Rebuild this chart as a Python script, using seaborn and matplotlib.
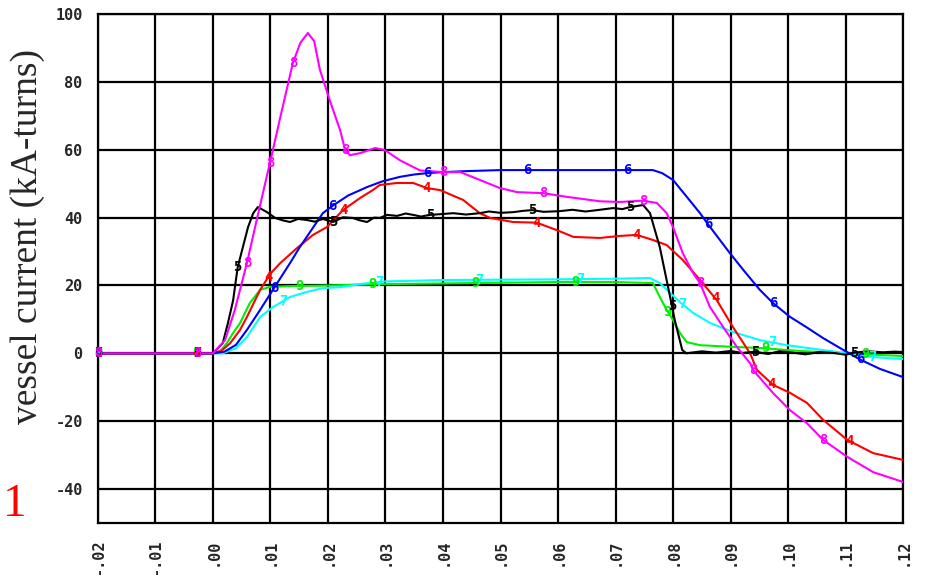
import numpy as np
import pandas as pd
import matplotlib
matplotlib.use("Agg")
import matplotlib.pyplot as plt
import seaborn as sns

# ---- data: time (s) vs vessel current (kA-turns) ----
t4 = [-0.02, 0.0, 0.0015, 0.003, 0.0047, 0.0059, 0.0082, 0.0100, 0.0117, 0.0146, 0.0174,
      0.0198, 0.0226, 0.0256, 0.0278, 0.029, 0.032, 0.0348, 0.0372, 0.0395, 0.0435, 0.0464,
      0.0482, 0.0522, 0.0563, 0.0598, 0.0627, 0.0673, 0.0708, 0.0737, 0.0765, 0.0789, 0.0817,
      0.0847, 0.0876, 0.0904, 0.0934, 0.0946, 0.0974, 0.1003, 0.1033, 0.1061, 0.1103, 0.1148, 0.12]
i4 = [0, 0, 0.8, 3.0, 6.9, 10.7, 18.7, 23.5, 26.6, 31.0, 34.9,
      37.2, 42.2, 45.8, 48.1, 49.6, 50.2, 50.2, 48.7, 48.1, 45.2, 41.3,
      39.9, 38.7, 38.5, 36.3, 34.3, 34.0, 34.6, 34.9, 33.4, 31.9, 27.5,
      21.6, 15.7, 7.8, 0.0, -4.9, -9.3, -11.6, -14.6, -19.6, -25.5, -29.4, -31.4]

t5 = [-0.02, 0.0, 0.0017, 0.0026, 0.0035, 0.0043, 0.0052, 0.0061, 0.0070, 0.0078, 0.0094,
      0.0108, 0.0121, 0.0134, 0.0148, 0.0163, 0.0177, 0.0191, 0.0209, 0.0226, 0.0243, 0.0255,
      0.0268, 0.0280, 0.0290, 0.0303, 0.0320, 0.0335, 0.0348, 0.0362, 0.0377, 0.0395, 0.0418,
      0.0440, 0.0464, 0.0480, 0.0500, 0.0522, 0.0540, 0.0555, 0.0575, 0.0603, 0.0625, 0.0648,
      0.0668, 0.0696, 0.0712, 0.0725, 0.0748, 0.0760, 0.0777, 0.0795, 0.0803, 0.0816, 0.0823,
      0.0850, 0.0875, 0.0900, 0.0920, 0.0943, 0.0965, 0.0985, 0.1005, 0.1030, 0.1055, 0.1080,
      0.1100, 0.1115, 0.1140, 0.1165, 0.1185, 0.12]
i5 = [0, 0, 3.0, 8.9, 15.6, 25.4, 31.3, 37.2, 41.3, 43.1, 41.6,
      39.9, 39.2, 38.7, 39.6, 39.3, 38.8, 39.6, 38.7, 40.1, 39.9, 39.2,
      38.7, 40.0, 39.9, 40.8, 40.5, 41.2, 40.8, 40.3, 40.8, 41.0, 41.3,
      40.9, 41.3, 41.8, 41.4, 41.6, 42.0, 42.2, 41.7, 41.9, 42.3, 41.8,
      42.2, 42.8, 42.5, 43.1, 43.7, 41.3, 31.3, 16.6, 9.8, 1.0, 0.0,
      0.6, 0.2, 0.7, 0.1, 0.5, -0.2, 0.6, 0.3, -0.3, 0.4, 0.1,
      -0.4, 0.2, 0.6, 0.3, 0.5, 0.4]

t6 = [-0.02, 0.0, 0.002, 0.004, 0.0059, 0.0082, 0.0106, 0.0134, 0.0151, 0.0163, 0.0191,
      0.0209, 0.0235, 0.0268, 0.0295, 0.0325, 0.0350, 0.0372, 0.0400, 0.0442, 0.050, 0.060,
      0.070, 0.0765, 0.0781, 0.080, 0.0824, 0.0847, 0.0861, 0.0899, 0.0925, 0.0951, 0.0974,
      0.1003, 0.1033, 0.1060, 0.1090, 0.1125, 0.1160, 0.12]
i6 = [0, 0, 0.5, 2.5, 6.9, 12.8, 19.2, 26.6, 31.3, 34.3, 41.3,
      43.6, 46.5, 49.0, 50.7, 52.0, 52.7, 53.1, 53.4, 53.7, 54.0, 54.0,
      54.0, 54.0, 53.1, 51.1, 46.1, 41.3, 38.0, 29.5, 24.0, 18.7, 14.8,
      10.8, 7.6, 4.6, 1.6, -1.8, -4.6, -7.0]

t7 = [-0.02, 0.0, 0.0017, 0.004, 0.0059, 0.0082, 0.0104, 0.0134, 0.0163, 0.0191, 0.0221,
      0.026, 0.030, 0.040, 0.050, 0.060, 0.070, 0.076, 0.0777, 0.0795, 0.0812, 0.0835,
      0.0865, 0.0904, 0.0951, 0.0998, 0.1033, 0.1090, 0.1148, 0.12]
i7 = [0, 0, 0.0, 1.5, 4.8, 10.7, 13.6, 16.6, 18.1, 19.2, 19.5,
      20.5, 21.2, 21.6, 21.7, 21.8, 22.0, 22.2, 20.7, 17.8, 15.1, 11.9,
      8.9, 6.3, 3.9, 2.4, 1.6, 0.3, -1.1, -1.7]

t8 = [-0.02, 0.0, 0.0021, 0.0038, 0.0059, 0.0079, 0.0099, 0.0119, 0.0139, 0.0152, 0.0165,
      0.0176, 0.0186, 0.0203, 0.0221, 0.0230, 0.0238, 0.0256, 0.0282, 0.0299, 0.0325, 0.036,
      0.0400, 0.043, 0.0464, 0.0499, 0.0529, 0.0574, 0.0616, 0.0673, 0.0708, 0.0748, 0.0772,
      0.0789, 0.0800, 0.0817, 0.0835, 0.0847, 0.0864, 0.0887, 0.0911, 0.0934, 0.0939, 0.0974,
      0.1003, 0.1033, 0.1061, 0.1103, 0.1148, 0.12]
i8 = [0, 0, 3.9, 12.8, 26.6, 41.5, 56.1, 71.0, 85.6, 91.5, 94.4,
      92.0, 83.5, 74.6, 65.8, 59.9, 58.4, 59.0, 60.5, 59.9, 56.9, 53.9,
      53.4, 53.4, 51.1, 48.7, 47.5, 47.2, 46.1, 44.8, 44.6, 45.0, 44.3,
      41.3, 37.2, 29.5, 23.6, 20.7, 13.7, 7.8, 1.9, -2.9, -4.9, -11.7,
      -16.7, -20.6, -25.5, -30.5, -35.0, -37.9]

t9 = [-0.02, 0.0, 0.0012, 0.0024, 0.0035, 0.0047, 0.0064, 0.0082, 0.0099, 0.013, 0.020,
      0.030, 0.040, 0.050, 0.060, 0.070, 0.0765, 0.0777, 0.0789, 0.0800, 0.0812, 0.0824,
      0.0847, 0.0904, 0.0950, 0.1020, 0.1100, 0.12]
i9 = [0, 0, 0.5, 3.0, 6.0, 8.9, 14.8, 18.7, 19.6, 19.8, 20.0,
      20.4, 20.6, 20.8, 21.0, 21.0, 20.7, 16.6, 12.8, 9.8, 6.0, 3.3,
      2.4, 1.9, 1.6, 0.7, 0.0, -0.8]

# numbered tags placed along each trace
tags4 = [-0.02, -0.0028, 0.0096, 0.0226, 0.0372, 0.0563, 0.0737, 0.0873, 0.0972, 0.1106]
tags5 = [-0.02, -0.0028, 0.0043, 0.0209, 0.0377, 0.0555, 0.0725, 0.0798, 0.0943, 0.1115]
tags6 = [-0.02, -0.0028, 0.0106, 0.0207, 0.0372, 0.0546, 0.0720, 0.0861, 0.0974, 0.1125]
tags7 = [-0.02, -0.0028, 0.0122, 0.0290, 0.0464, 0.0638, 0.0816, 0.0972, 0.1146]
tags8 = [-0.02, -0.0028, 0.0059, 0.0099, 0.0139, 0.0230, 0.0400, 0.0574, 0.0748, 0.0847, 0.0939, 0.1061]
tags9 = [-0.02, -0.0028, 0.0151, 0.0278, 0.0456, 0.0630, 0.0791, 0.0960, 0.1134]

xticks = [-0.02, -0.01, 0.0, 0.01, 0.02, 0.03, 0.04, 0.05, 0.06, 0.07, 0.08, 0.09, 0.10, 0.11, 0.12]
xticklabels = ["-.02", "-.01", ".00", ".01", ".02", ".03", ".04", ".05", ".06", ".07",
               ".08", ".09", ".10", ".11", ".12"]
yticks = [100, 80, 60, 40, 20, 0, -20, -40]
yticklabels = ["100", "80", "60", "40", "20", "0", "-20", "-40"]

series = [
    ("9", t9, i9, tags9, "#00ee00"),
    ("7", t7, i7, tags7, "#00ffff"),
    ("4", t4, i4, tags4, "#ff0000"),
    ("6", t6, i6, tags6, "#0000ff"),
    ("5", t5, i5, tags5, "#000000"),
    ("8", t8, i8, tags8, "#ff00ff"),
]

frames = [pd.DataFrame({"t": t, "i": i, "curve": name}) for name, t, i, _, _ in series]
df = pd.concat(frames, ignore_index=True)
palette = {name: c for name, _, _, _, c in series}

sns.set_style("white")
fig = plt.figure(figsize=(9.26, 5.75), dpi=100)
ax = fig.add_axes([0.1058, 0.0904, 0.8694, 0.8853])

sns.lineplot(data=df, x="t", y="i", hue="curve", palette=palette, hue_order=[s[0] for s in series],
             estimator=None, sort=False, linewidth=1.5, legend=False, ax=ax, zorder=3)

mono = {"family": "DejaVu Sans Mono", "weight": "bold"}
for name, t, i, tags, c in series:
    for tx in tags:
        ty = np.interp(tx, t, i)
        ax.text(tx, ty, name, color=c, fontsize=10, ha="center", va="center",
                fontdict=mono, zorder=4)

ax.set_xlim(-0.02, 0.12)
ax.set_ylim(-50, 100)
ax.set_xticks(xticks)
ax.set_xticklabels(xticklabels, rotation=90, fontsize=11, **mono)
ax.set_yticks(yticks)
ax.set_yticklabels(yticklabels, fontsize=11, **mono)
ax.tick_params(length=0, pad=11)
ax.grid(True, color="black", linewidth=1.6)
ax.set_axisbelow(True)
for s in ax.spines.values():
    s.set_color("black")
    s.set_linewidth(1.6)

ax.set_xlabel("")
ax.set_ylabel("")
fig.text(0.030, 0.588, "vessel current (kA-turns)", rotation=90, ha="center", va="center",
         fontsize=27, family="Liberation Serif")
fig.text(0.016, 0.122, "1", color="red", ha="center", va="center",
         fontsize=34, family="Liberation Serif")

fig.savefig("out.png", dpi=100)
